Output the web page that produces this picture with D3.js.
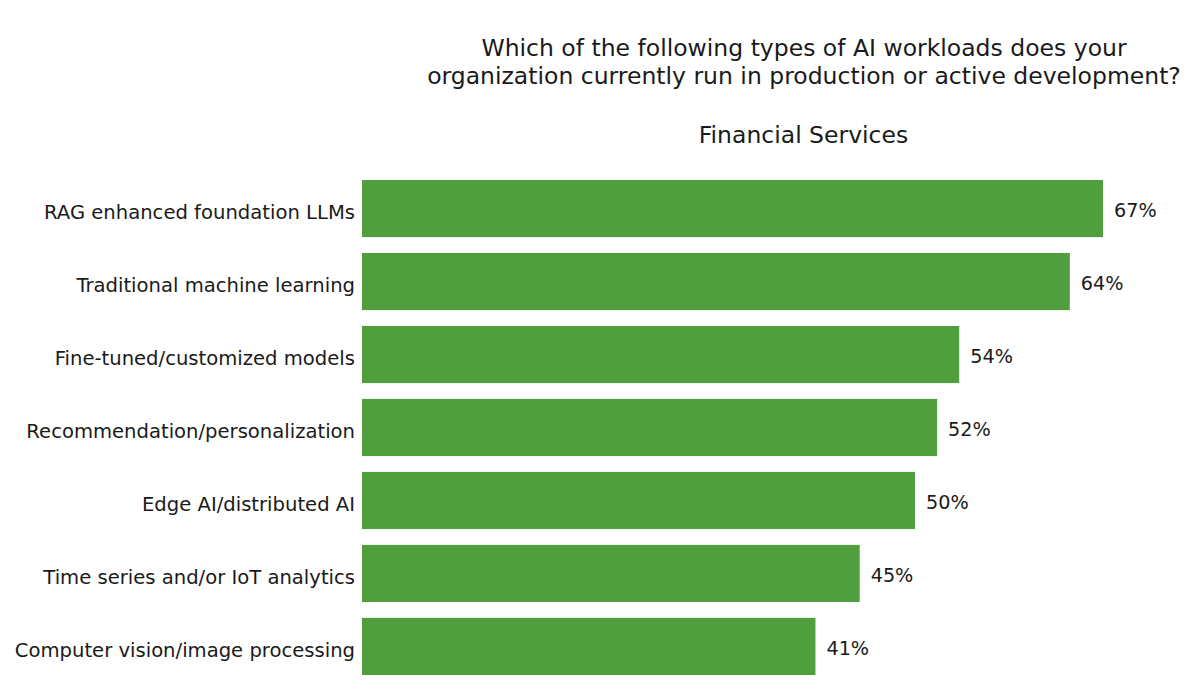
<!DOCTYPE html>
<html>
<head>
<meta charset="utf-8">
<script src="https://cdn.jsdelivr.net/npm/d3@7"></script>
<style>
  body { margin: 0; background: #fff; }
  text { font-family: "DejaVu Sans", sans-serif; fill: #1a1a1a; }
</style>
</head>
<body>
<div id="main"></div>
<script>
const categories = [
    'RAG enhanced foundation LLMs',
    'Traditional machine learning',
    'Fine-tuned/customized models',
    'Recommendation/personalization',
    'Edge AI/distributed AI',
    'Time series and/or IoT analytics',
    'Computer vision/image processing'
]
const values = [67, 64, 54, 52, 50, 45, 41]
const titleLines = [
    'Which of the following types of AI workloads does your',
    'organization currently run in production or active development?'
]
const subtitle = 'Financial Services'

const width = 1202
const height = 692
const plotLeft = 362
const plotTop = 172.7
const plotBottom = 682.3

const svg = d3.select('#main')
                .append('svg')
                .attr('width', width)
                .attr('height', height)

// 11.06 px per percent
const x = d3.scaleLinear().domain([0, 67]).range([plotLeft, 1103])
const y = d3.scaleBand().domain(categories).range([plotTop, plotBottom]).paddingInner(0.217).paddingOuter(0.1)

svg.selectAll('rect.bar')
    .data(values)
    .enter()
    .append('rect')
    .attr('class', 'bar')
    .attr('x', x(0))
    .attr('y', (d, i) => y(categories[i]))
    .attr('width', (d) => x(d) - x(0))
    .attr('height', y.bandwidth())
    .style('fill', '#519e3e')

svg.selectAll('text.value')
    .data(values)
    .enter()
    .append('text')
    .attr('class', 'value')
    .attr('x', (d) => x(d) + 11)
    .attr('y', (d, i) => y(categories[i]) + y.bandwidth() / 2)
    .attr('dy', '0.45em')
    .style('font-size', '19.2px')
    .text((d) => d + '%')

svg.selectAll('text.cat')
    .data(categories)
    .enter()
    .append('text')
    .attr('class', 'cat')
    .attr('x', plotLeft - 7)
    .attr('y', (d) => y(d) + y.bandwidth() / 2)
    .attr('dy', '0.52em')
    .attr('text-anchor', 'end')
    .style('font-size', '19.6px')
    .text((d) => d)

svg.selectAll('text.title')
    .data(titleLines)
    .enter()
    .append('text')
    .attr('class', 'title')
    .attr('x', 804)
    .attr('y', (d, i) => 56 + 28 * i)
    .attr('text-anchor', 'middle')
    .style('font-size', '23.5px')
    .text((d) => d)

svg.append('text')
    .attr('x', 803.5)
    .attr('y', 143)
    .attr('text-anchor', 'middle')
    .style('font-size', '23.5px')
    .text(subtitle)
</script>
</body>
</html>
